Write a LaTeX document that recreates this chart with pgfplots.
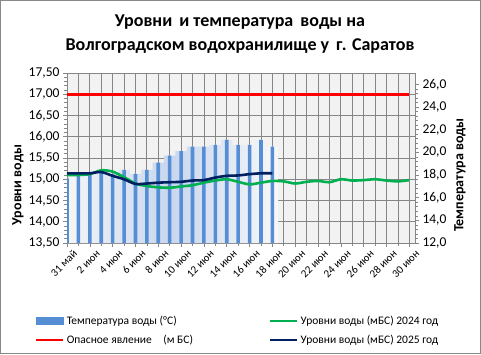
\documentclass[border=0pt]{standalone}
\usepackage{pgfplots}
\pgfplotsset{compat=1.18}
\usepackage{fontspec}
\setmainfont{Carlito}
\definecolor{barblue}{RGB}{85,142,213}
\definecolor{glowblue}{RGB}{200,214,238}
\definecolor{bggray}{RGB}{242,242,242}
\definecolor{gridgray}{RGB}{134,134,134}
\definecolor{lgreen}{RGB}{0,176,80}
\definecolor{lnavy}{RGB}{0,32,96}
\definecolor{framegray}{RGB}{137,137,137}

\pgfplotstableread{
x t
0 17.7
1 17.9
2 18.1
3 18.3
4 18.1
5 18.45
6 18.1
7 18.45
8 19.1
9 19.7
10 20.1
11 20.5
12 20.5
13 20.65
14 21.1
15 20.65
16 20.65
17 21.1
18 20.5
}\temptable

\pgfplotstableread{
x l
0 15.10
1 15.10
2 15.12
3 15.21
4 15.18
5 15.05
6 14.90
7 14.84
8 14.81
9 14.80
10 14.83
11 14.86
12 14.92
13 14.97
14 15.00
15 14.94
16 14.88
17 14.92
18 14.96
19 14.95
20 14.90
21 14.94
22 14.96
23 14.93
24 15.00
25 14.97
26 14.98
27 15.00
28 14.97
29 14.95
30 14.98
}\lvltwentyfour

\pgfplotstableread{
x l
0 15.14
1 15.14
2 15.14
3 15.17
4 15.08
5 15.00
6 14.89
7 14.90
8 14.92
9 14.93
10 14.94
11 14.97
12 14.98
13 15.04
14 15.08
15 15.09
16 15.12
17 15.14
18 15.14
}\lvltwentyfive

\pgfplotsset{
  base/.style={
    scale only axis, width=348pt, height=170pt,
    xmin=0, xmax=30.5, at={(0pt,0pt)}, anchor=south west,
    tick align=outside,
    tick style={gridgray, line width=0.6pt},
    major tick length=4pt, minor tick length=3pt,
    axis line style={gridgray, line width=0.8pt},
    yticklabel style={font=\fontsize{13.5}{15}\selectfont},
    /pgf/number format/assume math mode=true,
  },
}

\begin{document}
\begin{tikzpicture}
\useasboundingbox (-67pt,-111pt) rectangle (414pt,243pt);
\draw[framegray, line width=1pt] (-66.5pt,-110.5pt) rectangle (413.5pt,242.5pt);

\node[font=\bfseries\fontsize{18}{21}\selectfont] at (173pt,221pt) {Уровни\, и температура\, воды на};
\node[font=\bfseries\fontsize{18}{21}\selectfont] at (173pt,197pt) {Волгоградском водохранилище у\, г. Саратов};

% axis A: background, grid, left axis, x axis
\begin{axis}[base,
  ymin=13.5, ymax=17.5,
  axis background/.style={fill=bggray},
  axis x line*=bottom, axis y line*=left,
  ytick={13.5,14,...,17.5},
  minor y tick num=4,
  xtick={0,2,...,30},
  minor xtick={1,3,...,29},
  xticklabels={31 май,2 июн,4 июн,6 июн,8 июн,10 июн,12 июн,14 июн,16 июн,18 июн,20 июн,22 июн,24 июн,26 июн,28 июн,30 июн},
  xticklabel style={rotate=45, anchor=north east, inner sep=0.5pt, xshift=3pt, yshift=-5pt, font=\fontsize{11}{12}\selectfont},
  xmajorgrids, xminorgrids, ymajorgrids,
  major grid style={gridgray, line width=0.75pt},
  minor grid style={gridgray, line width=0.75pt},
  yticklabel style={/pgf/number format/.cd, fixed, fixed zerofill, precision=2, use comma},
  ylabel={Уровни воды},
  ylabel style={at={(axis description cs:-0.141,0.341)}, anchor=center, font=\bfseries\fontsize{14}{16}\selectfont},
]
\end{axis}

% axis B: temperature bars, right axis
\begin{axis}[base,
  ymin=12, ymax=27,
  axis x line=none, axis y line*=right,
  ytick={12,14,...,26},
  minor y tick num=4,
  yticklabel style={/pgf/number format/.cd, fixed, fixed zerofill, precision=1, use comma},
  ylabel={Температура воды},
  ylabel style={at={(axis description cs:1.129,0.40)}, anchor=center, rotate=0, font=\bfseries\fontsize{14}{16}\selectfont},
]
\addplot[ybar, bar width=11.4pt, bar shift=0pt, draw=none,
  left color=bggray!60!white, right color=bggray!60!white, middle color=glowblue]
  table[x=x, y=t] {\temptable};
\addplot[ybar, bar width=3.6pt, bar shift=0pt, draw=none, fill=barblue]
  table[x=x, y=t] {\temptable};
\end{axis}

% axis C: level lines and legend
\begin{axis}[base,
  ymin=13.5, ymax=17.5,
  hide axis,
  legend columns=2,
  legend style={at={(-0.092,-0.515)}, anchor=west, draw=none, fill=none,
    font=\fontsize{11.5}{13}\selectfont, inner xsep=0pt, inner ysep=0pt,
    row sep=5pt,
    /tikz/column 2/.style={column sep=74pt}},
  legend cell align=left,
  legend image code/.code={\draw[#1] (0pt,0pt) -- (27pt,0pt);},
]
\addlegendimage{legend image code/.code={\fill[barblue] (0pt,-3.5pt) rectangle (27pt,3.5pt);}}
\addlegendentry{Температура воды (°С)}
\addplot[lgreen, line width=2.6pt, smooth, tension=0.5] table[x=x, y=l] {\lvltwentyfour};
\addlegendentry{Уровни воды (мБС) 2024 год}
\addplot[red, line width=2.6pt] coordinates {(0,17) (30,17)};
\addlegendentry{Опасное явление\quad (м БС)}
\addplot[lnavy, line width=2.6pt, smooth, tension=0.5] table[x=x, y=l] {\lvltwentyfive};
\addlegendentry{Уровни воды (мБС) 2025 год}
\end{axis}
\end{tikzpicture}
\end{document}
